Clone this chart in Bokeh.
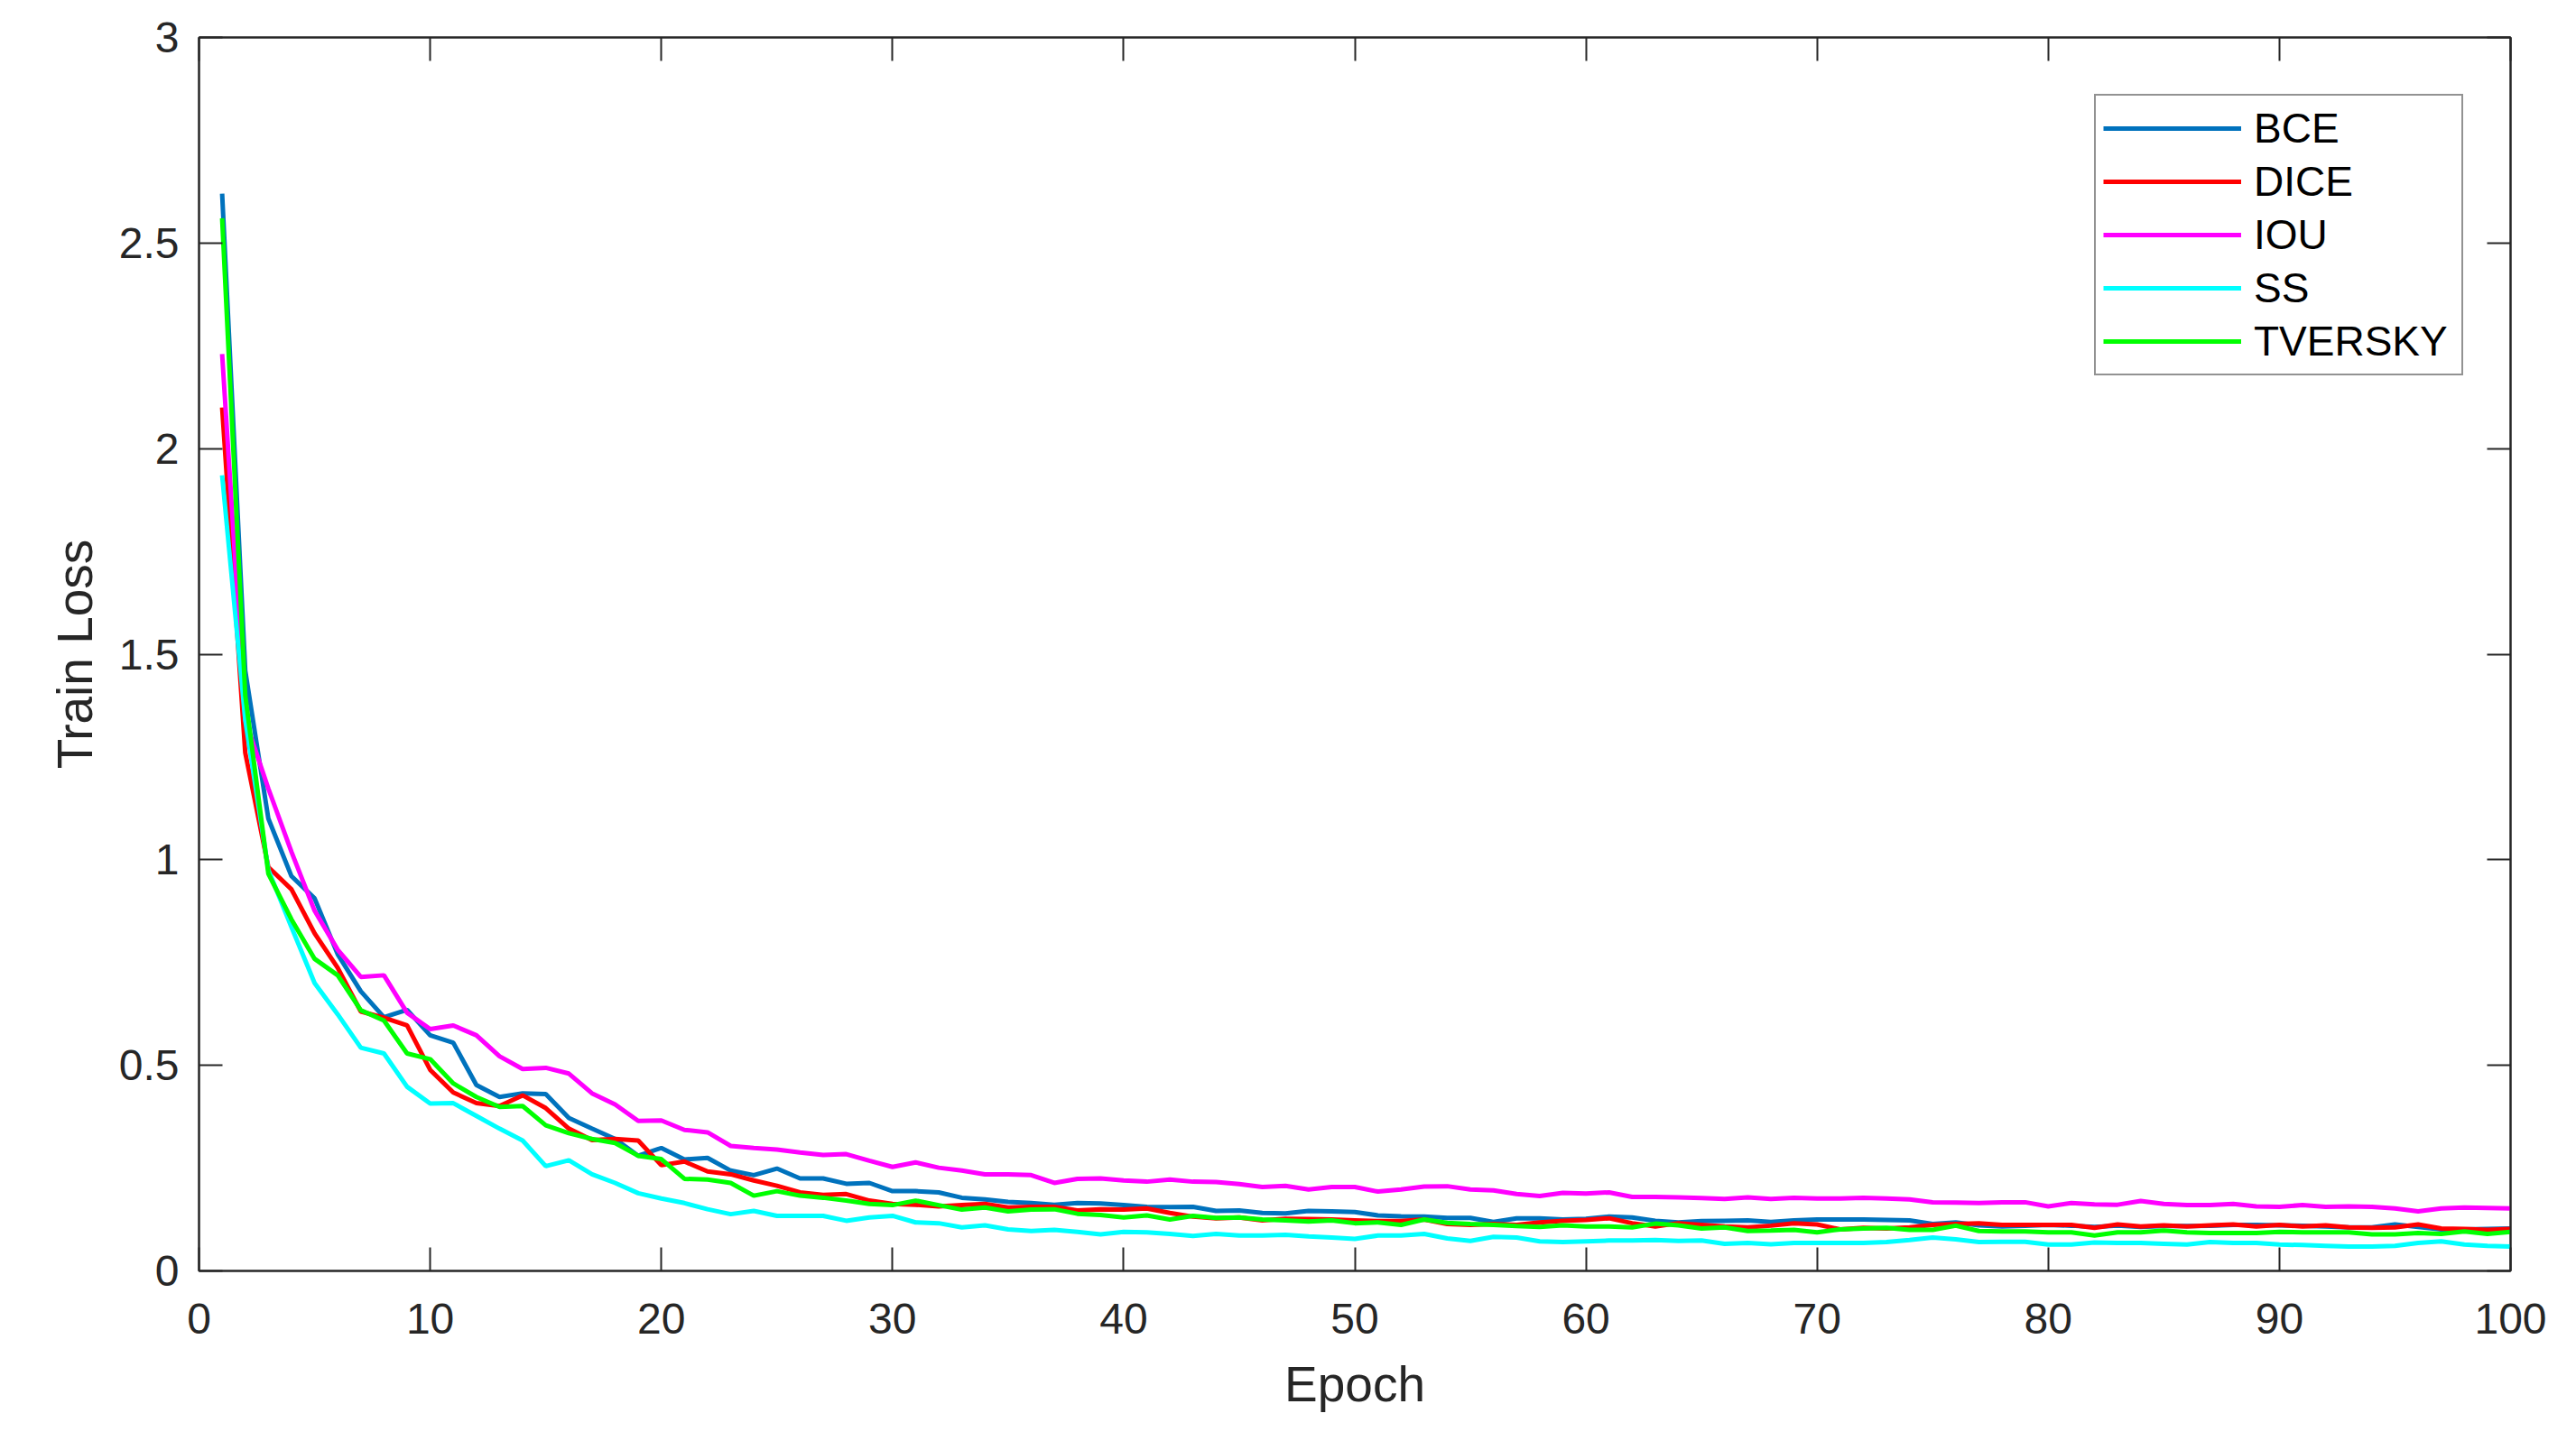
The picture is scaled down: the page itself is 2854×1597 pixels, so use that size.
from bokeh.plotting import figure
from bokeh.models import (LinearAxis, FixedTicker, Legend, LegendItem, Range1d,
                          ColumnDataSource, CustomLabelingPolicy)
from bokeh.embed import file_html
from bokeh.resources import INLINE

epochs = list(range(1, 101))

bce = [2.62, 1.46, 1.10, 0.96, 0.906, 0.770, 0.680, 0.617, 0.635, 0.573,
       0.555, 0.452, 0.423, 0.432, 0.430, 0.372, 0.346, 0.321, 0.280, 0.299,
       0.271, 0.275, 0.244, 0.233, 0.249, 0.225, 0.225, 0.212, 0.214, 0.194,
       0.194, 0.191, 0.178, 0.174, 0.168, 0.165, 0.161, 0.165, 0.164, 0.160,
       0.156, 0.155, 0.156, 0.146, 0.147, 0.141, 0.140, 0.146, 0.145, 0.143,
       0.135, 0.133, 0.132, 0.129, 0.129, 0.119, 0.128, 0.128, 0.125, 0.127,
       0.132, 0.130, 0.122, 0.118, 0.121, 0.122, 0.123, 0.119, 0.123, 0.125,
       0.125, 0.125, 0.124, 0.123, 0.114, 0.118, 0.111, 0.108, 0.110, 0.112,
       0.110, 0.107, 0.110, 0.107, 0.109, 0.109, 0.110, 0.112, 0.112, 0.111,
       0.110, 0.108, 0.106, 0.106, 0.113, 0.107, 0.101, 0.101, 0.102, 0.103]

dice = [2.10, 1.26, 0.982, 0.928, 0.821, 0.737, 0.631, 0.616, 0.597, 0.489,
        0.434, 0.408, 0.401, 0.427, 0.396, 0.346, 0.318, 0.321, 0.317, 0.257,
        0.266, 0.242, 0.235, 0.220, 0.207, 0.191, 0.185, 0.187, 0.171, 0.163,
        0.161, 0.157, 0.160, 0.163, 0.154, 0.156, 0.156, 0.147, 0.150, 0.149,
        0.152, 0.141, 0.132, 0.128, 0.130, 0.123, 0.127, 0.126, 0.125, 0.123,
        0.121, 0.121, 0.125, 0.114, 0.112, 0.114, 0.112, 0.118, 0.122, 0.124,
        0.128, 0.116, 0.108, 0.116, 0.112, 0.108, 0.106, 0.110, 0.116, 0.113,
        0.101, 0.105, 0.103, 0.106, 0.112, 0.114, 0.116, 0.112, 0.112, 0.112,
        0.112, 0.105, 0.113, 0.108, 0.111, 0.108, 0.111, 0.113, 0.108, 0.112,
        0.108, 0.111, 0.106, 0.105, 0.106, 0.113, 0.103, 0.102, 0.100, 0.102]

iou = [2.23, 1.34, 1.173, 1.019, 0.876, 0.781, 0.715, 0.719, 0.628, 0.588,
       0.597, 0.573, 0.522, 0.491, 0.494, 0.480, 0.432, 0.405, 0.365, 0.366,
       0.343, 0.337, 0.304, 0.299, 0.295, 0.288, 0.282, 0.284, 0.268, 0.253,
       0.264, 0.251, 0.244, 0.235, 0.235, 0.233, 0.214, 0.224, 0.225, 0.220,
       0.217, 0.222, 0.217, 0.216, 0.211, 0.204, 0.207, 0.198, 0.204, 0.204,
       0.193, 0.198, 0.205, 0.206, 0.198, 0.196, 0.187, 0.182, 0.190, 0.188,
       0.191, 0.180, 0.180, 0.179, 0.177, 0.175, 0.179, 0.175, 0.178, 0.176,
       0.176, 0.178, 0.176, 0.174, 0.167, 0.166, 0.165, 0.167, 0.167, 0.157,
       0.165, 0.162, 0.161, 0.170, 0.163, 0.160, 0.160, 0.163, 0.157, 0.156,
       0.160, 0.156, 0.157, 0.156, 0.152, 0.145, 0.152, 0.154, 0.153, 0.152]

ss = [1.935, 1.34, 0.975, 0.836, 0.700, 0.624, 0.543, 0.529, 0.448, 0.407,
      0.408, 0.377, 0.346, 0.317, 0.255, 0.269, 0.235, 0.214, 0.189, 0.176,
      0.165, 0.150, 0.138, 0.146, 0.134, 0.134, 0.134, 0.122, 0.130, 0.134,
      0.118, 0.116, 0.106, 0.111, 0.101, 0.097, 0.100, 0.095, 0.089, 0.095,
      0.094, 0.090, 0.085, 0.090, 0.086, 0.086, 0.088, 0.084, 0.081, 0.078,
      0.086, 0.086, 0.090, 0.079, 0.073, 0.083, 0.081, 0.072, 0.070, 0.072,
      0.074, 0.074, 0.075, 0.073, 0.074, 0.066, 0.068, 0.065, 0.068, 0.068,
      0.068, 0.068, 0.070, 0.075, 0.081, 0.077, 0.070, 0.071, 0.071, 0.064,
      0.064, 0.069, 0.068, 0.068, 0.066, 0.064, 0.070, 0.068, 0.068, 0.064,
      0.063, 0.061, 0.059, 0.059, 0.061, 0.068, 0.072, 0.064, 0.061, 0.059]

tversky = [2.56, 1.40, 0.966, 0.855, 0.759, 0.719, 0.634, 0.609, 0.529, 0.515,
           0.456, 0.423, 0.399, 0.401, 0.354, 0.335, 0.321, 0.311, 0.280, 0.272,
           0.224, 0.222, 0.214, 0.183, 0.194, 0.183, 0.178, 0.171, 0.163, 0.160,
           0.171, 0.160, 0.149, 0.154, 0.145, 0.149, 0.150, 0.139, 0.136, 0.130,
           0.135, 0.125, 0.134, 0.129, 0.130, 0.125, 0.123, 0.120, 0.123, 0.116,
           0.118, 0.112, 0.125, 0.117, 0.114, 0.112, 0.109, 0.107, 0.111, 0.108,
           0.108, 0.106, 0.115, 0.111, 0.103, 0.106, 0.097, 0.098, 0.100, 0.094,
           0.101, 0.103, 0.105, 0.100, 0.100, 0.110, 0.097, 0.096, 0.096, 0.094,
           0.094, 0.086, 0.094, 0.094, 0.098, 0.094, 0.092, 0.092, 0.092, 0.095,
           0.094, 0.094, 0.094, 0.089, 0.089, 0.092, 0.090, 0.096, 0.090, 0.095]

series_names = ["BCE", "DICE", "IOU", "SS", "TVERSKY"]
series_values = [bce, dice, iou, ss, tversky]
series_colors = ["#0072BD", "#FF0000", "#FF00FF", "#00FFFF", "#00FF00"]

x_ticks = [0, 10, 20, 30, 40, 50, 60, 70, 80, 90, 100]
y_ticks = [0, 0.5, 1, 1.5, 2, 2.5, 3]
y_tick_labels = ["0", "0.5", "1", "1.5", "2", "2.5", "3"]

FONT = "Liberation Sans"
AX = "#262626"

p = figure(width=2836, height=1578,
           x_range=Range1d(0, 100), y_range=Range1d(0, 3),
           output_backend="svg", toolbar_location=None,
           min_border_left=220, min_border_right=55,
           min_border_top=41, min_border_bottom=170,
           x_axis_label="Epoch", y_axis_label="Train Loss")
p.xgrid.visible = False
p.ygrid.visible = False
p.outline_line_color = AX
p.outline_line_width = 2
p.background_fill_color = "white"
p.border_fill_color = "white"

def style_axis(ax, ticks, show_labels, overrides=None, standoff=22):
    ax.ticker = FixedTicker(ticks=ticks)
    ax.major_tick_in = 26
    ax.major_tick_out = 0
    ax.minor_tick_line_color = None
    ax.major_tick_line_color = AX
    ax.major_tick_line_width = 2
    ax.axis_line_color = AX
    ax.axis_line_width = 2
    ax.major_label_text_font = FONT
    ax.major_label_text_color = AX
    ax.major_label_standoff = standoff
    if overrides:
        ax.major_label_overrides = overrides
    if show_labels:
        ax.major_label_text_font_size = "48px"
    else:
        # tick marks only: no labels are drawn on the mirrored axes
        ax.major_label_text_font_size = "1px"
        ax.major_label_standoff = 0
        ax.major_label_policy = CustomLabelingPolicy(code="return new Set()")
    ax.axis_label_text_font = FONT
    ax.axis_label_text_font_size = "55px"
    ax.axis_label_text_font_style = "normal"
    ax.axis_label_text_color = AX

y_over = {t: l for t, l in zip(y_ticks, y_tick_labels)}

style_axis(p.xaxis[0], x_ticks, True, standoff=36)
p.xaxis[0].axis_label_standoff = 22
style_axis(p.yaxis[0], y_ticks, True, overrides=y_over, standoff=22)
p.yaxis[0].axis_label_standoff = 15

top_ax = LinearAxis()
style_axis(top_ax, x_ticks, False)
p.add_layout(top_ax, "above")
right_ax = LinearAxis()
style_axis(right_ax, y_ticks, False)
p.add_layout(right_ax, "right")

items = []
for name, vals, col in zip(series_names, series_values, series_colors):
    src = ColumnDataSource(dict(x=epochs, y=vals))
    r = p.line("x", "y", source=src, line_color=col, line_width=5)
    items.append(LegendItem(label=name, renderers=[r]))

legend = Legend(items=items, location=(2100, 992))
legend.label_text_font = FONT
legend.label_text_font_size = "46px"
legend.label_text_color = "black"
legend.glyph_width = 153
legend.glyph_height = 56
legend.label_height = 56
legend.label_width = 222
legend.label_standoff = 14
legend.spacing = 3
legend.padding = 8
legend.margin = 0
legend.border_line_color = AX
legend.border_line_width = 2
legend.background_fill_color = "white"
legend.background_fill_alpha = 1
p.add_layout(legend)

open("out.html", "w").write(file_html(p, INLINE))
